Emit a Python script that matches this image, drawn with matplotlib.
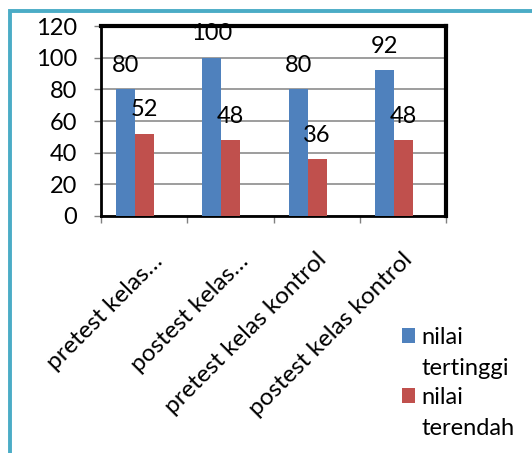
import matplotlib
matplotlib.use("Agg")
import matplotlib.pyplot as plt
from matplotlib.patches import Rectangle
from matplotlib.transforms import ScaledTranslation

plt.rcParams['font.family'] = ['Lato', 'DejaVu Sans']

categories = ['pretest kelas…', 'postest kelas…', 'pretest kelas kontrol', 'postest kelas kontrol']
series_names = ['nilai\ntertinggi', 'nilai\nterendah']
nilai_tertinggi = [80, 100, 80, 92]
nilai_terendah = [52, 48, 36, 48]
y_ticks = [0, 20, 40, 60, 80, 100, 120]

BLUE = '#4F81BD'
RED = '#C0504D'
FRAME = '#4BACC6'
W, H = 532, 453

fig = plt.figure(figsize=(W / 100, H / 100), dpi=100)
ax = fig.add_axes([101 / W, 1 - 216 / H, (446 - 101) / W, (216 - 26) / H])

xs = range(len(categories))
bar_w = 0.22
b1 = ax.bar([x - 0.215 for x in xs], nilai_tertinggi, bar_w, color=BLUE, zorder=3)
b2 = ax.bar([x + 0.005 for x in xs], nilai_terendah, bar_w, color=RED, zorder=3)

# value labels above each bar
for bars, vals in ((b1, nilai_tertinggi), (b2, nilai_terendah)):
    for rect, v in zip(bars, vals):
        ax.annotate(str(v), (rect.get_x() + rect.get_width() / 2, v),
                    xytext=(0, 12.5), textcoords='offset points',
                    ha='center', va='baseline', fontsize=17, zorder=4)

ax.set_xlim(-0.5, 3.5)
ax.set_ylim(0, 120)
ax.set_yticks(y_ticks)
ax.tick_params(axis='y', length=5, width=1, color='#808080', pad=12, labelsize=17)
ax.yaxis.grid(True, color='#8c8c8c', linewidth=1.2, zorder=0)

ax.set_xticks(list(xs))
ax.set_xticklabels(categories, rotation=45, ha='right', va='center',
                   rotation_mode='anchor', fontsize=17.5)
ax.set_xticks([-0.5, 0.5, 1.5, 2.5, 3.5], minor=True)
ax.tick_params(axis='x', which='major', length=0, pad=24)
ax.tick_params(axis='x', which='minor', length=5, width=1, color='#808080')

# truncated labels sit a little further right than the full ones
for lab in ax.get_xticklabels():
    short = lab.get_text().endswith('…')
    dx = 15 if short else 6
    dy = 9 if short else 7
    lab.set_transform(lab.get_transform() +
                      ScaledTranslation(dx / 100, -dy / 100, fig.dpi_scale_trans))

for side in ('top', 'right'):
    ax.spines[side].set_linewidth(3)
for side in ('left', 'bottom'):
    ax.spines[side].set_linewidth(2)

# outer chart border
fig.add_artist(Rectangle((9.5 / W, -0.1), 1.2, 1.1 - 10.5 / H, fill=False,
                         edgecolor=FRAME, linewidth=2.8, transform=fig.transFigure))

# legend
for i, (name, col) in enumerate(zip(series_names, (BLUE, RED))):
    top = 328 + i * 60
    fig.add_artist(Rectangle((402 / W, 1 - (top + 15) / H), 13 / W, 15 / H,
                             facecolor=col, edgecolor='none', transform=fig.transFigure))
    first, second = name.split('\n')
    fig.text(421 / W, 1 - (top + 16) / H, first, fontsize=17, va='baseline')
    fig.text(421 / W, 1 - (top + 47) / H, second, fontsize=17, va='baseline')

fig.savefig('out.png', dpi=100)
